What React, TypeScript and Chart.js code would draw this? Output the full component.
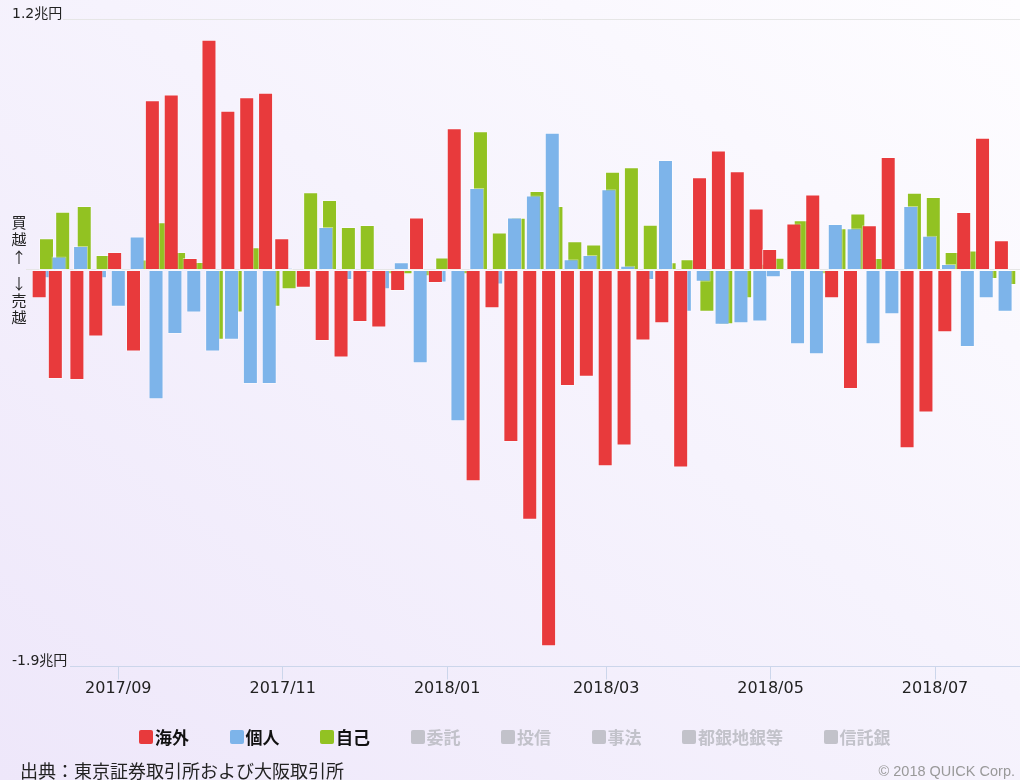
import React, { useEffect, useRef } from "react";
import { Chart, registerables } from "chart.js";

Chart.register(...registerables);

// Week-ending trading days (last trading day of each week)
const weeks = [
  "2017-08-04", "2017-08-10", "2017-08-18", "2017-08-25",
  "2017-09-01", "2017-09-08", "2017-09-15", "2017-09-22", "2017-09-29",
  "2017-10-06", "2017-10-13", "2017-10-20", "2017-10-27",
  "2017-11-02", "2017-11-10", "2017-11-17", "2017-11-24",
  "2017-12-01", "2017-12-08", "2017-12-15", "2017-12-22", "2017-12-29",
  "2018-01-05", "2018-01-12", "2018-01-19", "2018-01-26",
  "2018-02-02", "2018-02-09", "2018-02-16", "2018-02-23",
  "2018-03-02", "2018-03-09", "2018-03-16", "2018-03-23", "2018-03-30",
  "2018-04-06", "2018-04-13", "2018-04-20", "2018-04-27",
  "2018-05-02", "2018-05-11", "2018-05-18", "2018-05-25",
  "2018-06-01", "2018-06-08", "2018-06-15", "2018-06-22", "2018-06-29",
  "2018-07-06", "2018-07-13", "2018-07-20", "2018-07-27",
];

// 兆円 (net buy + / net sell -)
const overseas = [
  -0.136, -0.522, -0.527, -0.319,
  0.086, -0.391, 0.813, 0.841, 0.057,
  1.103, 0.763, 0.827, 0.849,
  0.152, -0.085, -0.34, -0.42,
  -0.249, -0.276, -0.101, 0.251, -0.062,
  0.679, -1.013, -0.183, -0.824,
  -1.197, -1.803, -0.556, -0.512,
  -0.941, -0.841, -0.338, -0.255, -0.947,
  0.444, 0.572, 0.473, 0.294,
  0.1, 0.222, 0.362, -0.136,
  -0.57, 0.214, 0.541, -0.854, -0.683,
  -0.299, 0.278, 0.634, 0.142,
];

const individuals = [
  -0.04, 0.064, 0.115, -0.04,
  -0.176, 0.16, -0.619, -0.307, -0.204,
  -0.391, -0.335, -0.547, -0.547,
  0.01, -0.01, 0.206, -0.048,
  -0.013, -0.093, 0.037, -0.447, -0.06,
  -0.725, 0.393, -0.07, 0.251,
  0.357, 0.657, 0.051, 0.072,
  0.387, 0.02, -0.048, 0.527, -0.2,
  -0.056, -0.263, -0.255, -0.247,
  -0.035, -0.356, -0.404, 0.22,
  0.2, -0.356, -0.212, 0.307, 0.164,
  0.029, -0.369, -0.136, -0.2,
];

const proprietary = [
  0.152, 0.279, 0.306, 0.072,
  -0.005, 0.05, 0.228, 0.086, 0.038,
  -0.335, -0.204, 0.109, -0.176,
  -0.093, 0.372, 0.335, 0.206,
  0.215, -0.02, -0.021, -0.03, 0.06,
  -0.02, 0.664, 0.18, 0.25,
  0.378, 0.306, 0.137, 0.122,
  0.47, 0.492, 0.216, 0.037, 0.051,
  -0.2, -0.26, -0.136, 0.03,
  0.059, 0.238, -0.02, 0.2,
  0.271, 0.057, 0.0, 0.37, 0.35,
  0.086, 0.093, -0.043, -0.072,
];

const monthTicks = ["2017-09-01", "2017-11-01", "2018-01-01", "2018-03-01", "2018-05-01", "2018-07-01"];
const yMin = -1.9;
const yMax = 1.2;
const yLabelTop = "1.2兆円";
const yLabelBottom = "-1.9兆円";

const legendNames = ["海外", "個人", "自己", "委託", "投信", "事法", "都銀地銀等", "信託銀"];
const legendActive = [true, true, true, false, false, false, false, false];

const COLORS = ["#e83a3c", "#7db4ea", "#92c222"];
const HIDDEN = "#c2c2ca";

const DAY = 86400000;
const toDay = (s: string) => {
  const [y, m, d] = s.split("-").map(Number);
  return Date.UTC(y, m - 1, d) / DAY;
};
const fmtMonth = (v: number) => {
  const d = new Date(v * DAY);
  return `${d.getUTCFullYear()}/${String(d.getUTCMonth() + 1).padStart(2, "0")}`;
};

const SEP1 = toDay("2017-09-01");
const X_MIN = SEP1 - 39.44;
const X_MAX = SEP1 + 334.53;

const guides = {
  id: "guides",
  beforeDatasetsDraw(chart: any) {
    const { ctx, chartArea, scales } = chart;
    const y = scales.y;
    const crisp = (v: number) => Math.round(y.getPixelForValue(v) - 0.5) + 0.5;
    ctx.save();
    ctx.lineWidth = 1;
    ctx.strokeStyle = "#e6e6e6";
    ctx.beginPath();
    ctx.moveTo(63, crisp(yMax));
    ctx.lineTo(chartArea.right, crisp(yMax));
    ctx.moveTo(26, crisp(0));
    ctx.lineTo(chartArea.right, crisp(0));
    ctx.stroke();
    ctx.strokeStyle = "#ccd6eb";
    ctx.beginPath();
    ctx.moveTo(70, crisp(yMin));
    ctx.lineTo(chartArea.right, crisp(yMin));
    ctx.stroke();
    ctx.fillStyle = "#222";
    ctx.font = "14px 'DejaVu Sans', 'Noto Sans CJK JP', sans-serif";
    ctx.textBaseline = "alphabetic";
    ctx.textAlign = "left";
    ctx.fillText(yLabelTop, 12, crisp(yMax) - 1.5);
    ctx.fillText(yLabelBottom, 12, crisp(yMin) - 1.5);
    ctx.restore();
  },
};

function ChartCanvas() {
  const ref = useRef<HTMLCanvasElement | null>(null);
  useEffect(() => {
    if (!ref.current) return;
    const xs = weeks.map(toDay);
    const series = [overseas, individuals, proprietary];
    const chart = new Chart(ref.current, {
      type: "bar",
      data: {
        datasets: series.map((vals, i) => ({
          label: legendNames[i],
          data: vals.map((v, j) => ({ x: xs[j], y: v })),
          backgroundColor: COLORS[i],
          borderColor: "rgba(255,255,255,0.45)",
          borderWidth: 1,
          borderSkipped: false,
          categoryPercentage: 0.817,
          barPercentage: 5,
          maxBarThickness: 15,
        })),
      },
      options: {
        animation: false,
        responsive: false,
        events: [],
        layout: { padding: { left: 12, right: 0, top: 19.5, bottom: 73.5 } },
        plugins: { legend: { display: false }, tooltip: { enabled: false } },
        scales: {
          x: {
            type: "linear",
            min: X_MIN,
            max: X_MAX,
            offset: false,
            afterBuildTicks: (s: any) => {
              s.ticks = monthTicks.map((t) => ({ value: toDay(t) }));
            },
            afterFit: (s: any) => {
              s.height = 40;
            },
            ticks: {
              autoSkip: false,
              maxRotation: 0,
              minRotation: 0,
              padding: 0,
              color: "#222",
              font: { family: "'DejaVu Sans', sans-serif", size: 16 },
              callback: (v: any) => fmtMonth(Number(v)),
            },
            grid: {
              offset: false,
              drawOnChartArea: false,
              drawTicks: true,
              tickLength: 13,
              color: "#ccd6eb",
              tickColor: "#ccd6eb",
            },
            border: { display: false },
          },
          y: { display: false, min: yMin, max: yMax },
        },
      } as any,
      plugins: [guides],
    });
    return () => chart.destroy();
  }, []);
  return <canvas ref={ref} width={1020} height={780} style={{ position: "absolute", left: 0, top: 0 }} />;
}

export default function App() {
  const cjk = "'Noto Sans CJK JP', 'DejaVu Sans', sans-serif";
  return (
    <div
      style={{
        position: "absolute",
        left: 0,
        top: 0,
        width: 1020,
        height: 780,
        overflow: "hidden",
        background: "linear-gradient(to top right, #eee7fa 0%, #f6f3fd 55%, #fefdff 100%)",
        fontFamily: cjk,
      }}
    >
      <ChartCanvas />
      <div style={{ position: "absolute", left: 11, top: 212.75, width: 16, textAlign: "center", fontSize: 15, lineHeight: "17.5px", color: "#222" }}>
        買<br />越<br />↑
      </div>
      <div style={{ position: "absolute", left: 11, top: 273.5, width: 16, textAlign: "center", fontSize: 15, lineHeight: "17px", color: "#222" }}>
        ↓<br />売<br />越
      </div>
      <div style={{ position: "absolute", left: 139, top: 727, height: 20, display: "flex", alignItems: "center", gap: 40.5 }}>
        {legendNames.map((name, i) => {
          const c = legendActive[i] ? (COLORS[i] ?? HIDDEN) : HIDDEN;
          return (
            <div key={name} style={{ display: "flex", alignItems: "center", height: 20 }}>
              <span style={{ width: 14, height: 14, background: c, borderRadius: 2, marginRight: 2, display: "inline-block" }} />
              <span style={{ fontSize: 17, fontWeight: 700, lineHeight: "20px", color: legendActive[i] ? "#111" : HIDDEN }}>{name}</span>
            </div>
          );
        })}
      </div>
      <div style={{ position: "absolute", left: 20, top: 760, fontSize: 18, lineHeight: "20px", color: "#222", whiteSpace: "nowrap" }}>
        出典：東京証券取引所および大阪取引所
      </div>
      <div style={{ position: "absolute", right: 5, top: 763, fontSize: 14.5, lineHeight: "16px", color: "#999", fontFamily: "'Liberation Sans', sans-serif", whiteSpace: "nowrap" }}>
        © 2018 QUICK Corp.
      </div>
    </div>
  );
}
